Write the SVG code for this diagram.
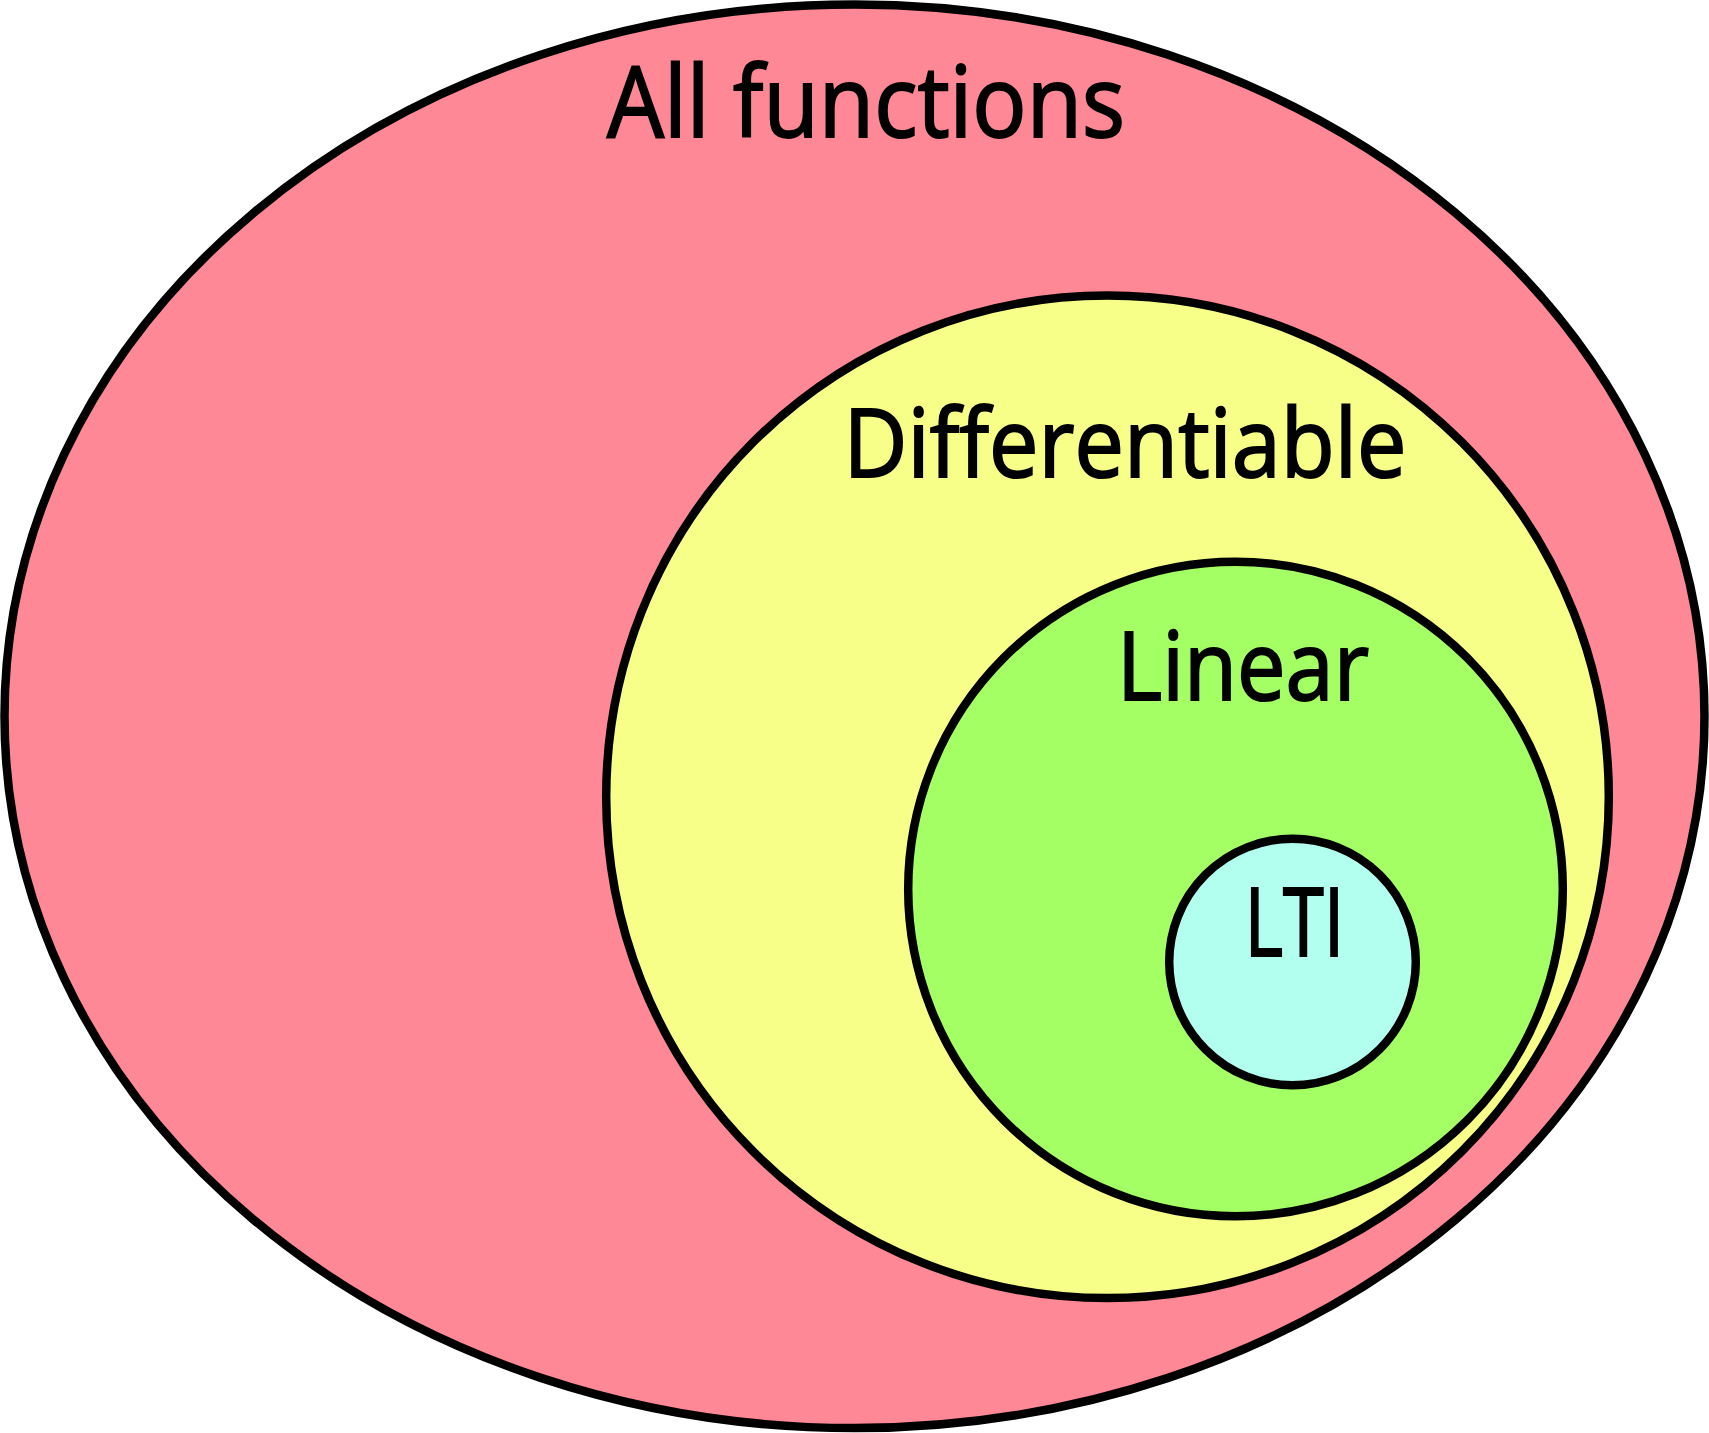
<svg xmlns="http://www.w3.org/2000/svg" width="1709" height="1433" viewBox="0 0 1709 1433">
<style>
.set{stroke:#000;stroke-width:8.5}
.lbl{font-family:"Open Sans","Noto Sans","Liberation Sans",sans-serif;fill:#000;stroke:#000;stroke-width:2;text-anchor:middle}
</style>
<rect width="1709" height="1433" fill="#fff"/>
<g id="all">
<ellipse class="set" cx="854.5" cy="716.3" rx="850" ry="711.8" fill="#ff8896"/>
<text class="lbl" x="866" y="137.3" font-size="98" textLength="518" lengthAdjust="spacingAndGlyphs">All functions</text>
</g>
<g id="differentiable">
<circle class="set" cx="1107.5" cy="796.8" r="501.3" fill="#f8ff88"/>
<text class="lbl" x="1125" y="477.3" font-size="95" textLength="563" lengthAdjust="spacingAndGlyphs">Differentiable</text>
</g>
<g id="linear">
<circle class="set" cx="1235.5" cy="889" r="327.3" fill="#a3ff63"/>
<text class="lbl" x="1243" y="700" font-size="95" textLength="252" lengthAdjust="spacingAndGlyphs">Linear</text>
</g>
<g id="lti">
<circle class="set" cx="1292.5" cy="962" r="123.3" fill="#b2fff0"/>
<text class="lbl" x="1294.5" y="956" font-size="95" textLength="100" lengthAdjust="spacingAndGlyphs">LTI</text>
</g>
<g id="connectors"/>
</svg>
